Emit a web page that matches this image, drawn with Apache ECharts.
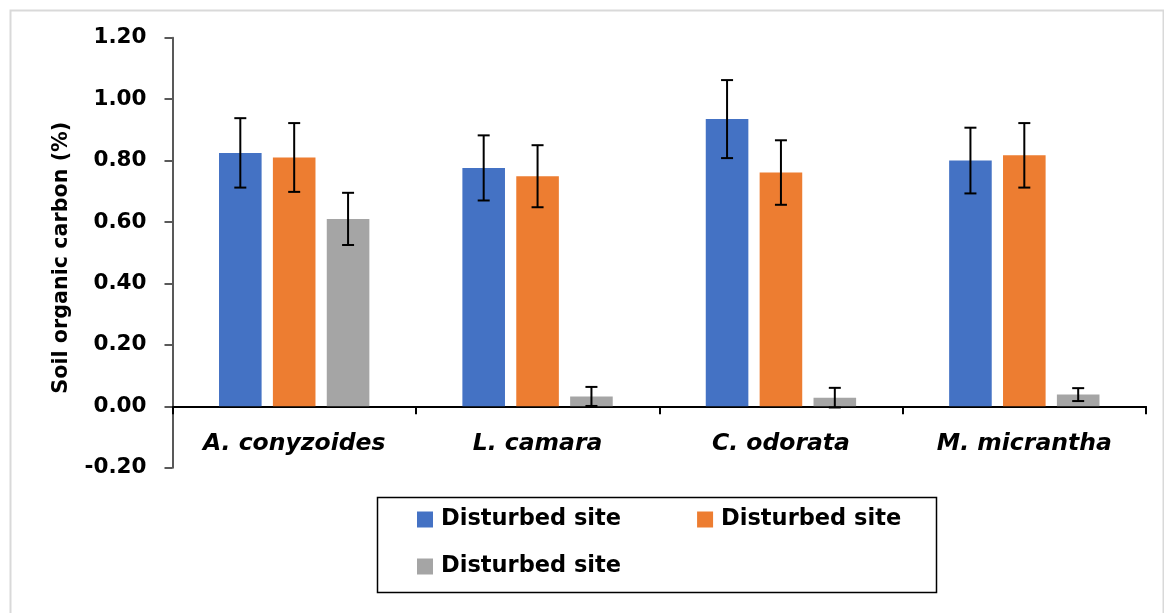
<!DOCTYPE html>
<html>
<head>
<meta charset="utf-8">
<script src="https://cdn.jsdelivr.net/npm/echarts@6/dist/echarts.min.js"></script>
<style>
  html, body { margin: 0; padding: 0; background: #fff; }
  #chart { width: 1164px; height: 613px; }
</style>
</head>
<body>
<div id="chart"></div>
<script>
// species on the x axis
var categories = ['A. conyzoides', 'L. camara', 'C. odorata', 'M. micrantha'];
// legend text (all three series carry the same label in the source figure)
var legendLabels = ['Disturbed site', 'Disturbed site', 'Disturbed site'];
var seriesColors = ['#4472C4', '#ED7D31', '#A5A5A5'];

// soil organic carbon (%) per series
var blueValues = [0.825, 0.776, 0.935, 0.800];
var orangeValues = [0.810, 0.749, 0.761, 0.817];
var grayValues = [0.610, 0.032, 0.028, 0.038];

// +/- error
var blueErr = [0.113, 0.106, 0.127, 0.107];
var orangeErr = [0.112, 0.101, 0.105, 0.105];
var grayErr = [0.085, 0.031, 0.032, 0.021];

var yTicks = { min: -0.2, max: 1.2, interval: 0.2 };

var BAR_W = 0.175;   // fraction of band
var BAR_GAP = 0.265; // fraction of bar width

var allValues = [blueValues, orangeValues, grayValues];
var allErr = [blueErr, orangeErr, grayErr];

var FONT = 'DejaVu Sans';

function errorRenderer(si) {
  return function (params, api) {
    var idx = api.value(0);
    var v = api.value(1);
    var e = api.value(2);
    var hi = api.coord([idx, v + e]);
    var lo = api.coord([idx, v - e]);
    var band = api.size([1, 0])[0];
    var bw = band * BAR_W;
    var off = (si - 1) * bw * (1 + BAR_GAP);
    var cx = hi[0] + off;
    var cap = 6;
    var st = { stroke: '#000', lineWidth: 2 };
    return {
      type: 'group',
      children: [
        { type: 'line', shape: { x1: cx, y1: hi[1], x2: cx, y2: lo[1] }, style: st },
        { type: 'line', shape: { x1: cx - cap, y1: hi[1], x2: cx + cap, y2: hi[1] }, style: st },
        { type: 'line', shape: { x1: cx - cap, y1: lo[1], x2: cx + cap, y2: lo[1] }, style: st }
      ]
    };
  };
}

var series = [];
allValues.forEach(function (vals, si) {
  series.push({
    name: 'site' + si,
    type: 'bar',
    data: vals,
    barWidth: (BAR_W * 100) + '%',
    barGap: (BAR_GAP * 100) + '%',
    itemStyle: { color: seriesColors[si] }
  });
});
allValues.forEach(function (vals, si) {
  series.push({
    type: 'custom',
    renderItem: errorRenderer(si),
    encode: { x: 0, y: 1 },
    z: 10,
    data: vals.map(function (v, i) { return [i, v, allErr[si][i]]; })
  });
});

var legendText = {
  fontFamily: FONT, fontWeight: 'bold', fontSize: 22.5, color: '#000',
  padding: [0, 0, 0, 3]
};
function legendFmt(name) {
  return legendLabels[parseInt(name.replace('site', ''), 10)];
}

var option = {
  backgroundColor: '#fff',
  animation: false,
  graphic: [
    { type: 'rect', left: 8, top: 8, shape: { width: 1153, height: 700 },
      style: { fill: 'none', stroke: '#d9d9d9', lineWidth: 2 }, silent: true },
    { type: 'rect', left: 375, top: 495, shape: { width: 559, height: 95 },
      style: { fill: 'none', stroke: '#000', lineWidth: 1.5 }, silent: true }
  ],
  legend: [
    {
      data: ['site0', 'site1'],
      left: 417, top: 508,
      padding: 0,
      itemWidth: 16, itemHeight: 16, itemGap: 76,
      icon: 'rect',
      formatter: legendFmt,
      textStyle: legendText
    },
    {
      data: ['site2'],
      left: 417, top: 555,
      padding: 0,
      itemWidth: 16, itemHeight: 16,
      icon: 'rect',
      formatter: legendFmt,
      textStyle: legendText
    }
  ],
  grid: { left: 172.5, right: 18, top: 37.7, bottom: 145.3, containLabel: false },
  xAxis: {
    type: 'category',
    data: categories,
    axisLine: { onZero: true, lineStyle: { color: '#000', width: 2 } },
    axisTick: { show: true, length: 8, lineStyle: { color: '#000', width: 2 } },
    axisLabel: {
      margin: -35,
      fontFamily: FONT, fontWeight: 'bold', fontStyle: 'italic',
      fontSize: 23.5, color: '#000'
    }
  },
  yAxis: {
    type: 'value',
    min: yTicks.min, max: yTicks.max, interval: yTicks.interval,
    name: 'Soil organic carbon (%)',
    nameLocation: 'middle',
    nameRotate: 90,
    nameGap: 100,
    nameTextStyle: {
      fontFamily: FONT, fontWeight: 'bold', fontSize: 20.7, color: '#000',
      padding: [0, 10, 0, 0]
    },
    axisLine: { show: true, lineStyle: { color: '#595959', width: 2 } },
    axisTick: { show: true, length: 8, lineStyle: { color: '#595959', width: 2 } },
    splitLine: { show: false },
    axisLabel: {
      margin: 26,
      fontFamily: FONT, fontWeight: 'bold', fontSize: 21.5, color: '#000',
      formatter: function (v) { return v.toFixed(2); }
    }
  },
  series: series
};

var chart = echarts.init(document.getElementById('chart'));
chart.setOption(option);
</script>
</body>
</html>
